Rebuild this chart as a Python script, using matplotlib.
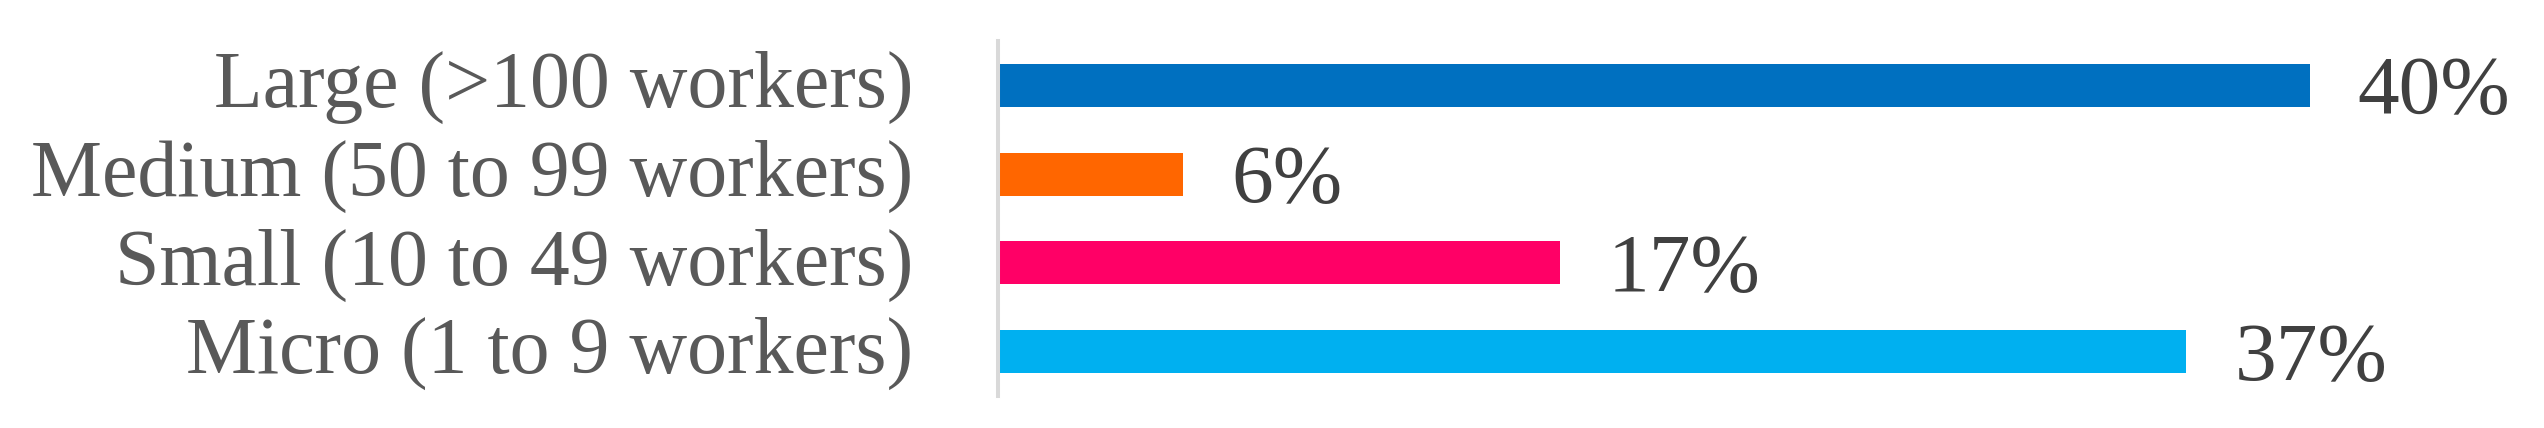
import matplotlib
matplotlib.use('Agg')
import matplotlib.pyplot as plt
from matplotlib.transforms import ScaledTranslation

# firm size shares
categories = ['Large (>100 workers)', 'Medium (50 to 99 workers)',
              'Small (10 to 49 workers)', 'Micro (1 to 9 workers)']
values = [40.4, 5.7, 17.3, 36.6]
labels = ['40%', '6%', '17%', '37%']
colors = ['#0070C0', '#FF6600', '#FF0066', '#00B0F0']

plt.rcParams['font.family'] = ['Liberation Serif', 'DejaVu Serif']

fig = plt.figure(figsize=(25.44, 4.28), dpi=100)
ax = fig.add_axes([998 / 2544, 1 - 396 / 428, 1542 / 2544, 355 / 428])

ypos = list(range(len(categories)))
ax.barh(ypos, values, height=0.485, color=colors)

ax.set_xlim(0, 1542 / 32.47)
ax.set_ylim(3.5, -0.5)

ax.set_yticks(ypos)
ax.set_yticklabels(categories, fontsize=57.5, color='#595959')
ax.tick_params(axis='y', length=0, pad=61)
ax.set_xticks([])
# put baselines a bit under the bar centres, like the original
shift = ScaledTranslation(0, -0.216, fig.dpi_scale_trans)
for lab in ax.get_yticklabels():
    lab.set_va('baseline')
    lab.set_transform(lab.get_transform() + shift)

for s in ['top', 'right', 'bottom']:
    ax.spines[s].set_visible(False)
ax.spines['left'].set_color('#d9d9d9')
ax.spines['left'].set_linewidth(2.9)

# value labels
for i, v in enumerate(values):
    ax.annotate(labels[i], xy=(v, i), xytext=(48, -28), textcoords='offset pixels',
                ha='left', va='baseline', fontsize=60, color='#404040')

fig.savefig('out.png', dpi=100)
